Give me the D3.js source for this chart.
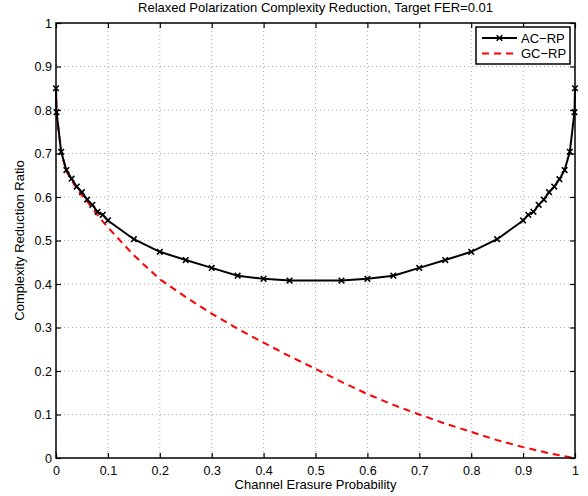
<!DOCTYPE html>
<html><head><meta charset="utf-8">
<script src="https://cdn.jsdelivr.net/npm/d3@7"></script>
<style>body{margin:0;background:#fff}svg{display:block}text{font-family:"Liberation Sans",Arial,sans-serif;fill:#000}</style>
</head><body><svg id="c" width="588" height="496"></svg>
<script>
const acX = [0,0.001,0.01,0.02,0.03,0.04,0.05,0.06,0.07,0.08,0.09,0.1,0.15,0.2,0.25,0.3,0.35,0.4,0.45,0.55,0.6,0.65,0.7,0.75,0.8,0.85,0.9,0.91,0.92,0.93,0.94,0.95,0.96,0.97,0.98,0.99,0.999,1];
const acY = [0.85,0.795,0.704,0.662,0.642,0.624,0.611,0.594,0.582,0.566,0.559,0.546,0.503,0.474,0.455,0.437,0.419,0.412,0.408,0.408,0.412,0.419,0.437,0.455,0.474,0.503,0.546,0.559,0.566,0.582,0.594,0.611,0.624,0.641,0.662,0.704,0.795,0.85];
const gcX = [0,0.001,0.01,0.02,0.03,0.04,0.05,0.06,0.07,0.08,0.09,0.1,0.15,0.2,0.25,0.3,0.35,0.4,0.45,0.5,0.55,0.6,0.65,0.7,0.75,0.8,0.85,0.9,0.95,0.99,1];
const gcY = [0.85,0.795,0.702,0.66,0.638,0.62,0.604,0.59,0.574,0.559,0.544,0.53,0.466,0.411,0.37,0.332,0.297,0.265,0.234,0.205,0.175,0.147,0.122,0.1,0.079,0.06,0.041,0.025,0.011,0.002,0];
const ticks = [0,0.1,0.2,0.3,0.4,0.5,0.6,0.7,0.8,0.9,1];
const tickLabels = ["0","0.1","0.2","0.3","0.4","0.5","0.6","0.7","0.8","0.9","1"];
const seriesNames = ["AC\u2212RP","GC\u2212RP"];
const titleText = "Relaxed Polarization Complexity Reduction, Target FER=0.01";
const xLabel = "Channel Erasure Probability";
const yLabel = "Complexity Reduction Ratio";

const L=56,R=575,T=23,B=458;
const svg=d3.select("#c");
const x=d3.scaleLinear().domain([0,1]).range([L,R]);
const y=d3.scaleLinear().domain([0,1]).range([B,T]);

// grid
const g=svg.append("g");
ticks.forEach(t=>{
  if(t>0&&t<1){
    g.append("line").attr("x1",x(t)).attr("x2",x(t)).attr("y1",T).attr("y2",B)
      .attr("stroke","#aaa").attr("stroke-width",1).attr("stroke-dasharray","1,3");
    g.append("line").attr("x1",L).attr("x2",R).attr("y1",y(t)).attr("y2",y(t))
      .attr("stroke","#aaa").attr("stroke-width",1).attr("stroke-dasharray","1,3");
  }
});
// axes with inward ticks
const fmt=(d,i)=>tickLabels[i];
const ax=d3.axisBottom(x).tickValues(ticks).tickFormat(fmt).tickSizeInner(-5).tickSizeOuter(0).tickPadding(8);
const axT=d3.axisTop(x).tickValues(ticks).tickFormat("").tickSizeInner(-5).tickSizeOuter(0);
const ay=d3.axisLeft(y).tickValues(ticks).tickFormat(fmt).tickSizeInner(-5).tickSizeOuter(0).tickPadding(4);
const ayR=d3.axisRight(y).tickValues(ticks).tickFormat("").tickSizeInner(-5).tickSizeOuter(0);
function style(sel){sel.select(".domain").remove();sel.selectAll("line").attr("stroke","#000").attr("stroke-width",1.2);
  sel.selectAll("text").style("font-size","12.5px").style("font-family","'Liberation Sans',Arial,sans-serif").attr("fill","#000");}
svg.append("g").attr("transform",`translate(0,${B})`).call(ax).call(style);
svg.append("g").attr("transform",`translate(0,${T})`).call(axT).call(style);
svg.append("g").attr("transform",`translate(${L},0)`).call(ay).call(style);
svg.append("g").attr("transform",`translate(${R},0)`).call(ayR).call(style);

// curves
const line=d3.line().x(d=>x(d[0])).y(d=>y(d[1]));
const gc=gcX.map((v,i)=>[v,gcY[i]]);
const ac=acX.map((v,i)=>[v,acY[i]]);
svg.append("path").datum(gc).attr("d",line).attr("fill","none").attr("stroke","#ff0000").attr("stroke-width",2).attr("stroke-dasharray","7,5");
svg.append("path").datum(ac).attr("d",line).attr("fill","none").attr("stroke","#000").attr("stroke-width",2);
const m=2.8;
svg.append("g").selectAll("path").data(ac).join("path")
  .attr("d",d=>{const cx=x(d[0]),cy=y(d[1]);return `M${cx-m},${cy-m}L${cx+m},${cy+m}M${cx-m},${cy+m}L${cx+m},${cy-m}`;})
  .attr("stroke","#000").attr("stroke-width",1.6);

// box
svg.append("rect").attr("x",L).attr("y",T).attr("width",R-L).attr("height",B-T).attr("fill","none").attr("stroke","#000").attr("stroke-width",1.5);

// legend
const lg=svg.append("g");
lg.append("rect").attr("x",476).attr("y",27).attr("width",94).attr("height",37).attr("fill","#fff").attr("stroke","#000").attr("stroke-width",1.5);
lg.append("line").attr("x1",482).attr("x2",517).attr("y1",38).attr("y2",38).attr("stroke","#000").attr("stroke-width",2);
lg.append("path").attr("d",`M${499.5-m},${38-m}L${499.5+m},${38+m}M${499.5-m},${38+m}L${499.5+m},${38-m}`).attr("stroke","#000").attr("stroke-width",1.6);
lg.append("line").attr("x1",482).attr("x2",517).attr("y1",53.5).attr("y2",53.5).attr("stroke","#ff0000").attr("stroke-width",2).attr("stroke-dasharray","7,5");
lg.append("text").attr("x",521).attr("y",42.5).style("font-size","13px").text(seriesNames[0]);
lg.append("text").attr("x",521).attr("y",58).style("font-size","13px").text(seriesNames[1]);

// titles
svg.append("text").attr("x",(L+R)/2).attr("y",12).attr("text-anchor","middle").style("font-size","13px").text(titleText);
svg.append("text").attr("x",(L+R)/2).attr("y",489).attr("text-anchor","middle").style("font-size","13px").text(xLabel);
svg.append("text").attr("transform",`translate(24,${(T+B)/2}) rotate(-90)`).attr("text-anchor","middle").style("font-size","13px").text(yLabel);
</script></body></html>
